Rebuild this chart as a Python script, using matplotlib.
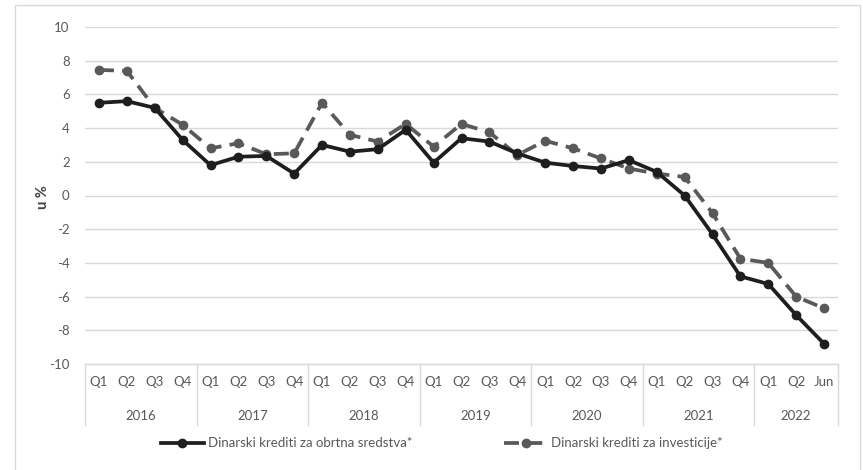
import numpy as np
import matplotlib.pyplot as plt
from matplotlib.patches import Rectangle

# --- DATA ---
years = ["2016", "2017", "2018", "2019", "2020", "2021", "2022"]
quarters = ["Q1", "Q2", "Q3", "Q4"] * 6 + ["Q1", "Q2", "Jun"]
obrtna = [5.5, 5.6, 5.2, 3.3,
          1.8, 2.3, 2.35, 1.3,
          3.0, 2.6, 2.75, 3.9,
          1.95, 3.4, 3.2, 2.5,
          1.95, 1.75, 1.6, 2.1,
          1.4, 0.0, -2.3, -4.8,
          -5.25, -7.1, -8.8]
investicije = [7.45, 7.4, 5.2, 4.2,
               2.8, 3.1, 2.45, 2.5,
               5.5, 3.6, 3.2, 4.25,
               2.9, 4.25, 3.75, 2.4,
               3.25, 2.8, 2.2, 1.6,
               1.3, 1.1, -1.05, -3.75,
               -4.0, -6.0, -6.7]
year_sizes = [4, 4, 4, 4, 4, 4, 3]

TXT = "#595959"
GRID = "#d9d9d9"
plt.rcParams['font.family'] = ['Lato', 'DejaVu Sans']
plt.rcParams['axes.unicode_minus'] = False

fig = plt.figure(figsize=(8.63, 4.70), dpi=100)
ax = fig.add_axes([85 / 863, 1 - 364 / 470, (838 - 85) / 863, (364 - 27) / 470])

# outer chart border
fig.patches.append(Rectangle((15 / 863, -0.1), (860 - 15) / 863, 1.1 - 5 / 470,
                             transform=fig.transFigure, fill=False,
                             edgecolor=GRID, linewidth=1.0))

x = np.arange(len(quarters))
ax.plot(x, obrtna, color="#1e1e1e", linewidth=2.7, marker="o", markersize=6,
        label="Dinarski krediti za obrtna sredstva*", zorder=4)
ax.plot(x, investicije, color="#595959", linewidth=2.7, linestyle=(0, (4, 2.2)),
        marker="o", markersize=6, label="Dinarski krediti za investicije*", zorder=3)

ax.set_xlim(-0.5, len(quarters) - 0.5)
ax.set_ylim(-10, 10)
ax.set_yticks(np.arange(-10, 11, 2))
ax.yaxis.grid(True, color=GRID, linewidth=1.0)
ax.set_axisbelow(True)
for s in ["top", "right", "left"]:
    ax.spines[s].set_visible(False)
ax.spines["bottom"].set_color(GRID)
ax.spines["bottom"].set_linewidth(1.0)
ax.tick_params(axis="y", length=0, pad=11, labelsize=9.5, labelcolor=TXT)
ax.set_xticks(x)
ax.set_xticklabels(quarters)
ax.tick_params(axis="x", length=0, pad=9, labelsize=9.5, labelcolor=TXT)

# year groups with separators
start = -0.5
for yr, n in zip(years, year_sizes):
    ax.text(start + n / 2, -0.154, yr, transform=ax.get_xaxis_transform(),
            ha="center", va="center", fontsize=9.5, color=TXT)
    ax.plot([start, start], [0, -0.181], transform=ax.get_xaxis_transform(),
            color=GRID, linewidth=1.0, clip_on=False)
    start += n
ax.plot([start, start], [0, -0.181], transform=ax.get_xaxis_transform(),
        color=GRID, linewidth=1.0, clip_on=False)

fig.text(0.05, 0.58, "u %", rotation=90, ha="center", va="center",
         fontsize=10.5, fontweight="bold", color="#404040")

handles, labels = ax.get_legend_handles_labels()
fig.legend(handles, labels, loc="center", bbox_to_anchor=(0.512, 0.057), ncol=2,
           frameon=False, fontsize=9.5, labelcolor=TXT, handlelength=3.2,
           handletextpad=0.3, columnspacing=7.0)

fig.savefig("out.png", dpi=100)
